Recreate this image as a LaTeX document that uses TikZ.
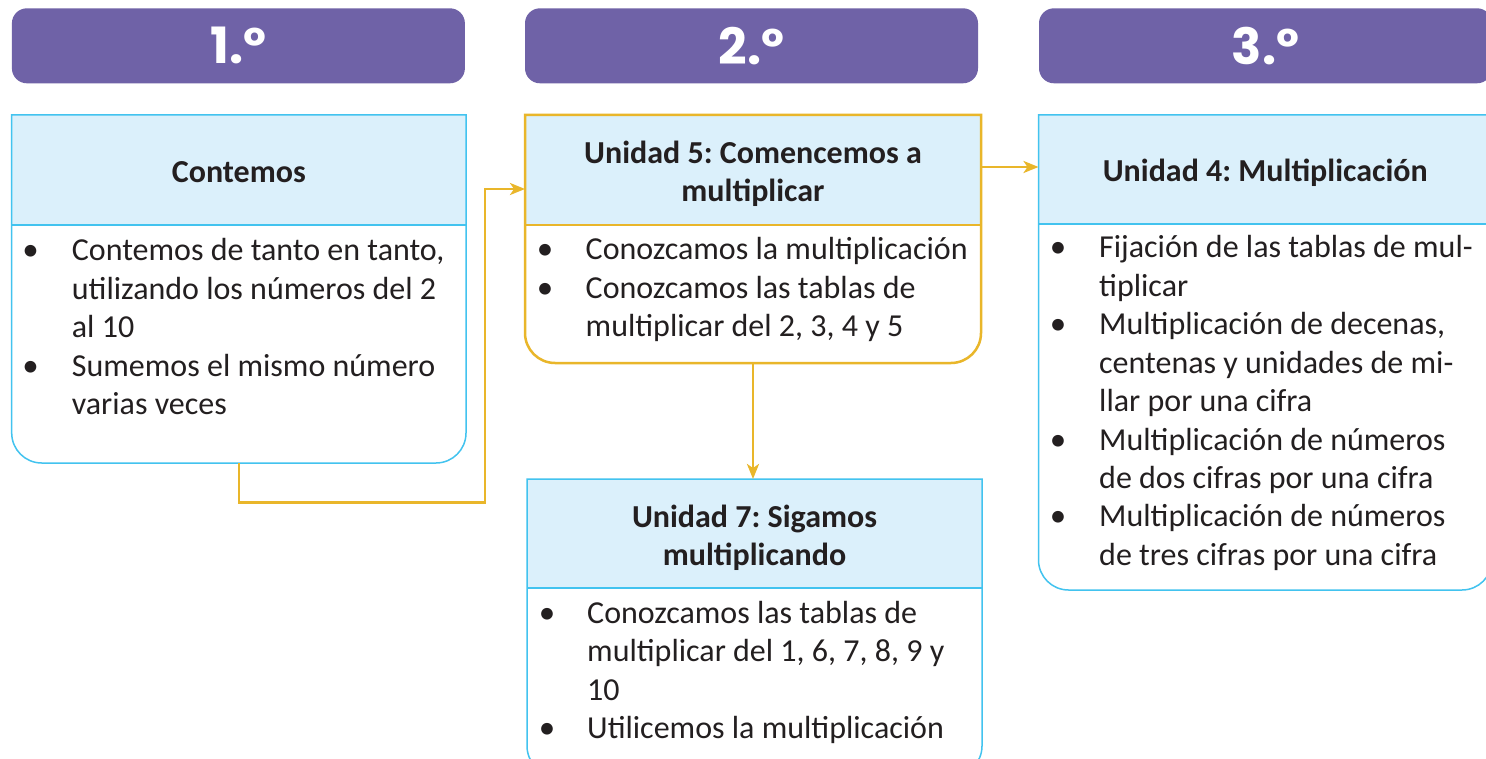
\documentclass[tikz,border=0pt]{standalone}
\usepackage{fontspec}
\setmainfont{Carlito}
\newfontfamily\headfont{Poppins}
\usetikzlibrary{arrows.meta}
\definecolor{hdrpurple}{HTML}{6F62A7}
\definecolor{lblue}{HTML}{DBF0FB}
\definecolor{cyanline}{HTML}{42C3EF}
\definecolor{gold}{HTML}{E9B62A}
\definecolor{ink}{HTML}{231F20}
\frenchspacing
\newcommand{\mybox}[4]{%
  \fill[lblue] (#1.north west) rectangle (#1.east |- 0,#2);
  \draw[#3, line width=#4] (#1.west |- 0,#2) -- (#1.east |- 0,#2);
  \draw[#3, line width=#4] (#1.north west) -- (#1.north east) [rounded corners=30pt] -- (#1.south east) -- (#1.south west) [sharp corners] -- cycle;
}
\begin{document}
\begin{tikzpicture}[x=1pt,y=-1pt,
  hdr/.style={fill=hdrpurple, rounded corners=15pt, minimum width=453pt, minimum height=75pt, inner sep=0pt, text=white, font=\headfont\bfseries\fontsize{50}{50}\selectfont},
  frame/.style={inner sep=0pt, outer sep=0pt},
  line/.style={anchor=base west, inner sep=0pt, text=ink, font=\fontsize{32}{38.5}\selectfont},
  bul/.style={anchor=base, inner sep=0pt, text=ink, font=\fontsize{33}{38.5}\selectfont},
  ttl/.style={anchor=base, inner sep=0pt, text=ink, font=\bfseries\fontsize{32}{38.5}\selectfont},
  conn/.style={gold, line width=2.5pt},
  arr/.style={conn, -{Stealth[length=15pt, width=12pt, inset=4pt]}}]
\useasboundingbox (0,0) rectangle (1486,759);
\fill[white] (0,0) rectangle (1486,759);
\clip (0,0) rectangle (1486,759);

% headers
\node[hdr] (h1) at (238.4,45.8) {1.º};
\node[hdr] (h2) at (751.5,45.8) {2.º};
\node[hdr] (h3) at (1265.5,45.8) {3.º};

% frames
\node[frame, minimum width=454.3pt, minimum height=348pt] (b1) at (238.85,289) {};
\node[frame, minimum width=456pt, minimum height=248pt] (b2) at (753,239) {};
\node[frame, minimum width=455pt, minimum height=297pt] (b3) at (754.5,627.5) {};
\node[frame, minimum width=453.5pt, minimum height=475pt] (b4) at (1265.25,352.5) {};

\mybox{b1}{225}{cyanline}{1.5pt}
\mybox{b2}{225}{gold}{2.5pt}
\mybox{b3}{588}{cyanline}{1.5pt}
\mybox{b4}{224}{cyanline}{1.5pt}

% box 1
\node[ttl] (t1) at (238.85,183) {Contemos};
\node[bul] (d1a) at (30.7,260.7) {•};
\node[line] (l1a) at (71.7,260.7) {Contemos de tanto en tanto,};
\node[line] (l1b) at (71.7,299.2) {utilizando los números del 2};
\node[line] (l1c) at (71.7,337.7) {al 10};
\node[bul] (d1b) at (30.7,376.2) {•};
\node[line] (l1d) at (71.7,376.2) {Sumemos el mismo número};
\node[line] (l1e) at (71.7,414.7) {varias veces};

% box 2
\node[ttl] (t2a) at (753,163.5) {Unidad 5: Comencemos a};
\node[ttl] (t2b) at (753,202) {multiplicar};
\node[bul] (d2a) at (545,260) {•};
\node[line] (l2a) at (585.5,260) {Conozcamos la multiplicación};
\node[bul] (d2b) at (545,298.5) {•};
\node[line] (l2b) at (585.5,298.5) {Conozcamos las tablas de};
\node[line] (l2c) at (585.5,337) {multiplicar del 2, 3, 4 y 5};

% box 3
\node[ttl] (t3a) at (754.5,527) {Unidad 7: Sigamos};
\node[ttl] (t3b) at (754.5,565.5) {multiplicando};
\node[bul] (d3a) at (547,623) {•};
\node[line] (l3a) at (587,623) {Conozcamos las tablas de};
\node[line] (l3b) at (587,661.5) {multiplicar del 1, 6, 7, 8, 9 y};
\node[line] (l3c) at (587,700) {10};
\node[bul] (d3b) at (547,738.5) {•};
\node[line] (l3d) at (587,738.5) {Utilicemos la multiplicación};

% box 4
\node[ttl] (t4) at (1265.25,182) {Unidad 4: Multiplicación};
\node[bul] (d4a) at (1058,258) {•};
\node[line] (l4a) at (1099,258) {Fijación de las tablas de mul-};
\node[line] (l4b) at (1099,296.4) {tiplicar};
\node[bul] (d4b) at (1058,334.8) {•};
\node[line] (l4c) at (1099,334.8) {Multiplicación de decenas,};
\node[line] (l4d) at (1099,373.2) {centenas y unidades de mi-};
\node[line] (l4e) at (1099,411.6) {llar por una cifra};
\node[bul] (d4c) at (1058,450) {•};
\node[line] (l4f) at (1099,450) {Multiplicación de números};
\node[line] (l4g) at (1099,488.4) {de dos cifras por una cifra};
\node[bul] (d4d) at (1058,526.8) {•};
\node[line] (l4h) at (1099,526.8) {Multiplicación de números};
\node[line] (l4i) at (1099,565.2) {de tres cifras por una cifra};

% connectors
\coordinate (c1) at (485,502.7);
\draw[arr] (b1.south) |- (c1) -- (c1 |- 0,189) -- (b2.west |- 0,189);
\draw[arr] (b2.east |- 0,167) -- (b4.west |- 0,167);
\draw[arr] (b2.south) -- (b2.south |- b3.north);
\end{tikzpicture}
\end{document}
